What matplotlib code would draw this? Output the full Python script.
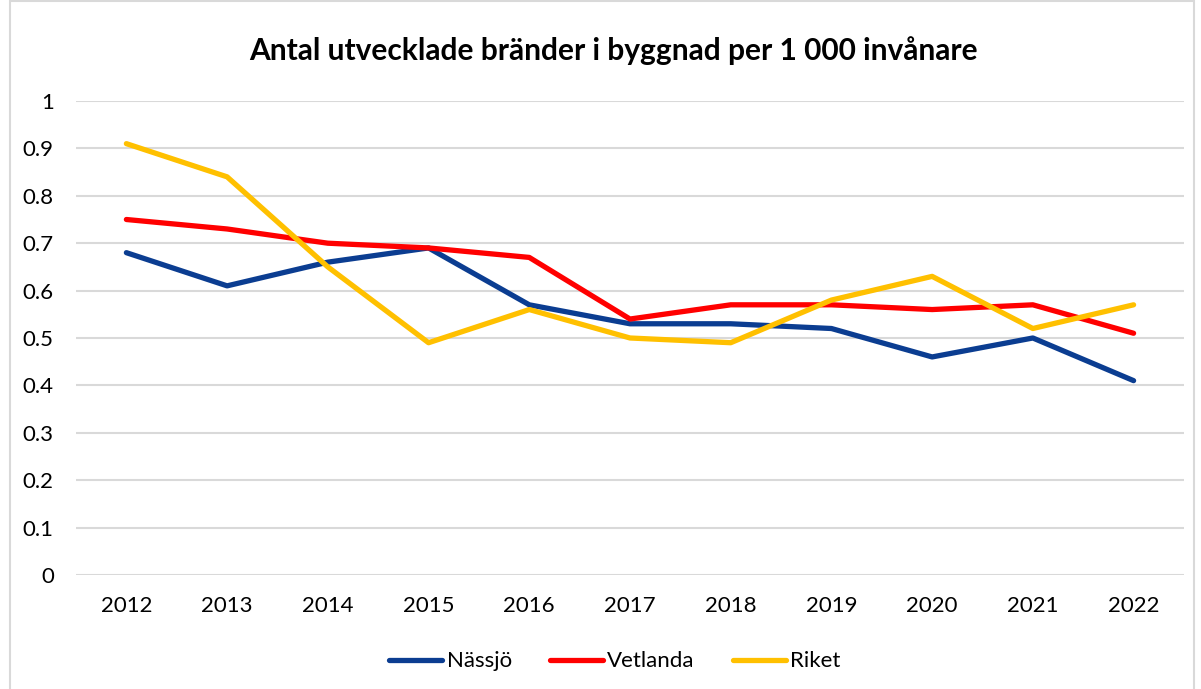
import matplotlib.pyplot as plt
from matplotlib.patches import Rectangle
import numpy as np

plt.rcParams['font.family'] = ['Lato', 'DejaVu Sans']

# data
years = ["2012", "2013", "2014", "2015", "2016", "2017", "2018", "2019", "2020", "2021", "2022"]
nassjo = [0.68, 0.61, 0.66, 0.69, 0.57, 0.53, 0.53, 0.52, 0.46, 0.50, 0.41]
vetlanda = [0.75, 0.73, 0.70, 0.69, 0.67, 0.54, 0.57, 0.57, 0.56, 0.57, 0.51]
riket = [0.91, 0.84, 0.65, 0.49, 0.56, 0.50, 0.49, 0.58, 0.63, 0.52, 0.57]
yticks = [0, 0.1, 0.2, 0.3, 0.4, 0.5, 0.6, 0.7, 0.8, 0.9, 1]
ytick_labels = ["0", "0.1", "0.2", "0.3", "0.4", "0.5", "0.6", "0.7", "0.8", "0.9", "1"]

fig = plt.figure(figsize=(12.01, 6.89), dpi=100)
ax = fig.add_axes([0.0633, 0.1655, 0.9225, 0.6879])

# ram runt diagrammet
fig.patches.append(Rectangle((0.0085, -0.01), 0.986, 1.008, transform=fig.transFigure,
                             fill=False, edgecolor="#d9d9d9", linewidth=1.5))

x = np.arange(len(years))
ax.plot(x, nassjo, color="#0b3d91", lw=3.8, label="Nässjö", solid_capstyle="round")
ax.plot(x, vetlanda, color="#ff0000", lw=3.8, label="Vetlanda", solid_capstyle="round")
ax.plot(x, riket, color="#ffc000", lw=3.8, label="Riket", solid_capstyle="round")

ax.set_xlim(-0.5, len(years) - 0.5)
ax.set_ylim(0, 1)
ax.set_xticks(x)
ax.set_xticklabels(years)
ax.set_yticks(yticks)
ax.set_yticklabels(ytick_labels)
ax.tick_params(length=0, labelsize=16, colors="#000000")
ax.tick_params(axis="x", pad=15)
ax.tick_params(axis="y", pad=16)
ax.yaxis.grid(True, color="#d9d9d9", lw=1.5)
ax.set_axisbelow(True)
for s in ax.spines.values():
    s.set_visible(False)

fig.text(0.511, 0.927, "Antal utvecklade bränder i byggnad per 1 000 invånare",
         ha="center", va="center", fontsize=21.5, fontweight="bold")

fig.legend(loc="center", bbox_to_anchor=(0.512, 0.04), ncol=3, frameon=False,
           fontsize=16, handlelength=2.4, handletextpad=0.2, columnspacing=1.7)

fig.savefig("out.png", dpi=100)
